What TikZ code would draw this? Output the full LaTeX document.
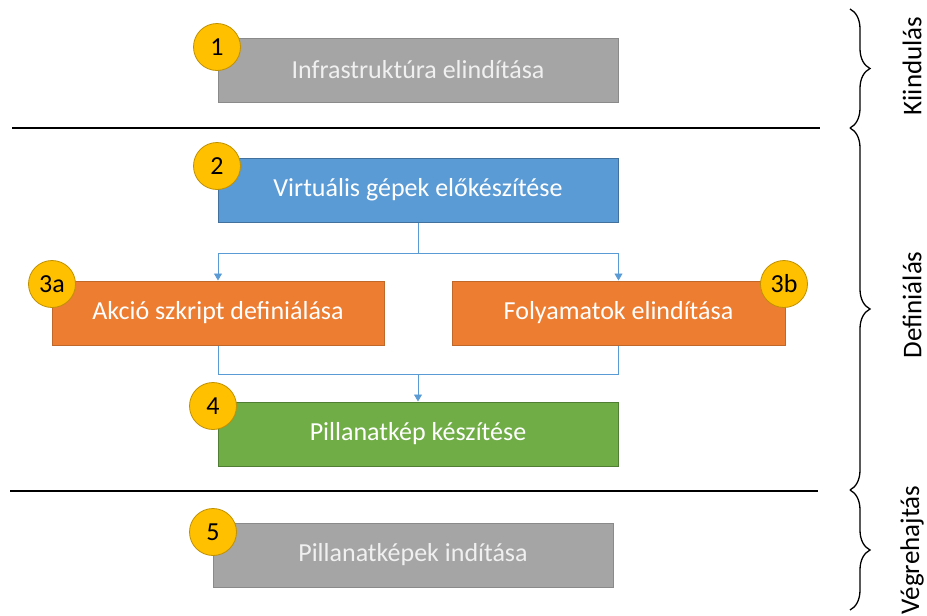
\documentclass[tikz,border=0pt]{standalone}
\usepackage{fontspec}
\setmainfont{Carlito}
\usetikzlibrary{arrows.meta,decorations.pathreplacing}
\definecolor{grayfill}{HTML}{A5A5A5}
\definecolor{grayline}{HTML}{8A8A8A}
\definecolor{bluefill}{HTML}{5B9BD5}
\definecolor{blueline}{HTML}{41719C}
\definecolor{orangefill}{HTML}{ED7D31}
\definecolor{orangeline}{HTML}{C0682A}
\definecolor{greenfill}{HTML}{70AD47}
\definecolor{greenline}{HTML}{507E32}
\definecolor{badgefill}{HTML}{FFC000}
\definecolor{badgeline}{HTML}{BF9000}
\definecolor{connblue}{HTML}{5B9BD5}
\tikzset{
  stepbox/.style={rectangle, minimum width=400pt, minimum height=64pt, line width=1pt, inner sep=0pt, text=white, font=\fontsize{26}{30}\selectfont},
  graybox/.style={stepbox, fill=grayfill, draw=grayline, text=white!94!black},
  bluebox/.style={stepbox, fill=bluefill, draw=blueline},
  orangebox/.style={stepbox, fill=orangefill, draw=orangeline, minimum width=332pt},
  greenbox/.style={stepbox, fill=greenfill, draw=greenline},
  badge/.style={circle, fill=badgefill, draw=badgeline, line width=0.8pt, minimum size=47pt, inner sep=0pt, font=\fontsize{26}{30}\selectfont},
  conn/.style={draw=connblue, line width=0.9pt},
  connarrow/.style={conn, -{Triangle[length=7pt,width=8pt]}},
  sepline/.style={line width=1.8pt, black},
  bracestyle/.style={decorate, decoration={brace, amplitude=20pt}, line width=1.3pt},
  phase/.style={rotate=90, font=\fontsize{27}{30}\selectfont}
}
\begin{document}
\begin{tikzpicture}[x=1pt,y=-1pt]
\useasboundingbox (0,0) rectangle (927,616);
% separator lines
\draw[sepline] (12,128) coordinate (l1a) -- (820,128) coordinate (l1b);
\draw[sepline] (10,491) coordinate (l2a) -- (818,491) coordinate (l2b);
% boxes
\node[graybox] (b1) at (418,70) {Infrastruktúra elindítása};
\node[bluebox] (b2) at (418,190) {Virtuális gépek előkészítése};
\node[orangebox] (b3a) at (218,313) {Akció szkript definiálása};
\node[orangebox, minimum width=333pt] (b3b) at (618.5,313) {Folyamatok elindítása};
\node[greenbox] (b4) at (418,434) {Pillanatkép készítése};
\node[graybox] (b5) at (413,555) {Pillanatképek indítása};
% connectors
\coordinate (s1) at (418,253);
\coordinate (j1) at (418,374);
\draw[conn] (b2.south) -- (s1);
\draw[connarrow] (s1) -| (b3a.north);
\draw[connarrow] (s1) -| (b3b.north);
\draw[conn] (b3a.south) |- (j1);
\draw[conn] (b3b.south) |- (j1);
\draw[connarrow] (j1) -- (b4.north);
% badges
\node[badge] (n1) at (217,47) {1};
\node[badge] (n2) at (217,166) {2};
\node[badge] (n3a) at (52,284) {3a};
\node[badge] (n3b) at (784,284) {3b};
\node[badge] (n4) at (213,406) {4};
\node[badge] (n5) at (213,532) {5};
% braces
\coordinate (br0) at (850,9);
\coordinate (br1) at (850,128);
\coordinate (br2) at (850,490);
\coordinate (br3) at (850,610);
\draw[bracestyle] (br0) -- (br1);
\draw[bracestyle] (br1) -- (br2);
\draw[bracestyle] (br2) -- (br3);
% phase labels
\node[phase] (p1) at (912,66) {Kiindulás};
\node[phase] (p2) at (912,305) {Definiálás};
\node[phase] (p3) at (912,550) {Végrehajtás};
\end{tikzpicture}
\end{document}
